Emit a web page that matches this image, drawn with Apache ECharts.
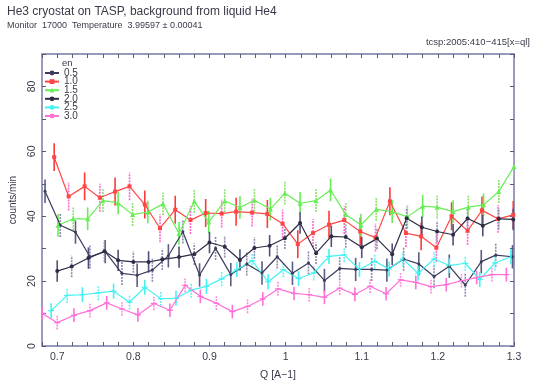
<!DOCTYPE html>
<html><head><meta charset="utf-8">
<script src="https://cdn.jsdelivr.net/npm/echarts@6/dist/echarts.min.js"></script>
<style>html,body{margin:0;padding:0;background:#fff}#c{width:534px;height:386px}</style>
</head><body><div id="c"></div>
<script>
const seriesNames = ['0.5', '1.0', '1.5', '2.0', '2.5', '3.0'];

const q05 = [0.684,0.704,0.724,0.743,0.763,0.785,0.805,0.825,0.846,0.865,0.887,0.908,0.928,0.949,0.969,0.989,1.009,1.030,1.051,1.071,1.092,1.113,1.133,1.155,1.175,1.195,1.215,1.236,1.257,1.276,1.298];
const y05 = [47.7,37.2,35.1,27.5,29.1,22.4,21.8,23.4,27.8,35.2,21.9,30.1,22.0,25.3,22.5,27.5,22.4,25.6,20.2,23.9,23.6,23.6,23.4,26.8,25.3,21.4,24.6,18.8,26.0,28.0,27.5];

const q10 = [0.696,0.715,0.736,0.756,0.776,0.795,0.815,0.835,0.855,0.875,0.895,0.916,0.935,0.956,0.976,0.996,1.016,1.036,1.057,1.077,1.098,1.118,1.137,1.158,1.178,1.198,1.218,1.239,1.258,1.279,1.299];
const y10 = [58.2,46.1,49.2,45.7,47.6,49.2,43.6,36.3,42.0,38.8,41.0,40.8,41.4,41.1,40.7,37.7,31.4,34.8,37.4,38.8,35.3,33.4,44.6,34.8,33.8,30.3,40.0,35.5,41.8,39.2,40.4];

const q15 = [0.701,0.721,0.740,0.760,0.780,0.799,0.819,0.839,0.860,0.880,0.899,0.920,0.940,0.959,0.980,0.999,1.019,1.040,1.059,1.079,1.099,1.119,1.140,1.160,1.180,1.199,1.220,1.240,1.260,1.280,1.300];
const y15 = [37.2,39.2,39.2,44.8,44.1,40.5,41.3,43.8,34.7,44.6,38.2,44.7,42.7,44.9,42.2,47.1,44.0,44.8,48.1,40.5,37.3,42.1,41.4,39.8,43.1,42.8,41.4,42.8,43.5,47.6,55.3];

const q20 = [0.700,0.719,0.741,0.762,0.780,0.800,0.820,0.838,0.860,0.880,0.900,0.920,0.940,0.959,0.979,0.999,1.019,1.040,1.060,1.079,1.100,1.120,1.140,1.159,1.179,1.199,1.220,1.239,1.259,1.280,1.299];
const y20 = [23.1,24.5,27.1,29.2,26.4,25.9,25.9,26.7,27.4,28.3,31.9,30.6,26.5,30.2,30.9,33.2,37.9,28.6,33.8,33.6,30.4,33.1,28.3,39.4,36.6,35.3,34.3,39.3,37.1,39.2,39.0];

const q25 = [0.692,0.713,0.733,0.754,0.774,0.795,0.815,0.836,0.856,0.876,0.896,0.916,0.936,0.956,0.977,0.997,1.017,1.037,1.057,1.077,1.097,1.117,1.136,1.154,1.174,1.195,1.215,1.236,1.255,1.275,1.296];
const y25 = [10.9,15.6,15.8,16.4,16.9,13.5,18.1,14.6,14.7,17.2,18.4,20.7,23.5,26.3,19.8,23.5,20.8,22.5,27.6,28.1,23.6,26.1,23.7,26.8,22.4,26.8,24.8,25.5,20.5,25.6,27.5];

const q30 = [0.680,0.700,0.722,0.743,0.765,0.785,0.806,0.827,0.848,0.868,0.888,0.909,0.930,0.950,0.970,0.990,1.011,1.031,1.051,1.071,1.091,1.111,1.132,1.151,1.171,1.191,1.211,1.231,1.251,1.271,1.290];
const y30 = [10.1,7.2,9.5,10.9,13.3,11.4,9.6,13.1,11.0,18.7,15.3,13.2,10.6,12.2,14.5,17.6,16.2,15.8,15.0,17.8,15.9,18.4,16.1,20.4,19.6,18.3,18.9,20.1,21.1,22.0,22.0];

const errs = [3.6, 4.3, 3.5, 3.3, 2.3, 2.1];

const xTickLabels = ['0.7', '0.8', '0.9', '1', '1.1', '1.2', '1.3'];
const yTickLabels = ['0', '20', '40', '60', '80'];

const qs = [q05, q10, q15, q20, q25, q30];
const ys = [y05, y10, y15, y20, y25, y30];
const lineColors = ['#3c3c5c', '#ff4646', '#66ee55', '#2c2c46', '#44f2f2', '#ff70d8'];
const errSolid = ['#5c5c84', '#ff3838', '#66ee55', '#50507a', '#44f2f2', '#ff70d8'];
const errDash = ['#8c8cb0', '#ff66cc', '#88e066', '#8c8cb0', '#66f0f0', '#ff88e0'];
const symbols = ['circle', 'rect', 'triangle', 'circle', 'none', 'none'];
const symSizes = [3, 4, 5, 4, 0, 0];
const hcap = [false, false, false, false, true, true];

const FONT = 'Liberation Sans, Arial, sans-serif';
const TXT = '#3a3a4a';
const FRAME = '#9a9abb';

const series = [];
seriesNames.forEach((nm, si) => {
  series.push({
    type: 'custom', name: nm + ' err', z: 1, silent: true, clip: true,
    data: qs[si].map((q, i) => [q, ys[si][i], errs[si]]),
    renderItem: (params, api) => {
      const x = api.value(0), y = api.value(1), e = api.value(2);
      const p0 = api.coord([x, y - e]), p1 = api.coord([x, y + e]);
      const dashed = params.dataIndex % 2 === 1;
      const children = [{
        type: 'line',
        shape: { x1: p0[0], y1: p0[1], x2: p1[0], y2: p1[1] },
        style: { stroke: dashed ? errDash[si] : errSolid[si], lineWidth: 1.6, lineDash: dashed ? [2, 1] : null }
      }];
      if (hcap[si]) {
        const c = api.coord([x, y]);
        children.push({ type: 'line', shape: { x1: c[0] - 3, y1: c[1], x2: c[0] + 3, y2: c[1] },
          style: { stroke: errSolid[si], lineWidth: 1.2 } });
      }
      return { type: 'group', children };
    }
  });
});
seriesNames.forEach((nm, si) => {
  series.push({
    type: 'line', name: nm, z: 3, clip: true,
    data: qs[si].map((q, i) => [q, ys[si][i]]),
    symbol: symbols[si] === 'none' ? 'circle' : symbols[si],
    symbolSize: symbols[si] === 'none' ? 2 : symSizes[si],
    showSymbol: true,
    lineStyle: { color: lineColors[si], width: 1.2 },
    itemStyle: { color: lineColors[si] },
    emphasis: { disabled: true }
  });
});

const fmtX = v => { const s = String(+(+v).toFixed(2)); return xTickLabels.includes(s) ? s : ''; };
const fmtY = v => { const s = String(Math.round(v)); return yTickLabels.includes(s) ? s : ''; };

const axisCommon = {
  axisLine: { show: true, onZero: false, lineStyle: { color: FRAME, width: 2 } },
  axisTick: { show: true, inside: true, length: 4, lineStyle: { color: '#5a5a78', width: 1 } },
  splitLine: { show: false }
};

const chart = echarts.init(document.getElementById('c'), null, { renderer: 'canvas' });
chart.setOption({
  animation: false,
  backgroundColor: '#ffffff',
  title: [
    { text: 'He3 cryostat on TASP, background from liquid He4', left: 7, top: 6, padding: 0,
      textStyle: { fontFamily: FONT, fontSize: 12, fontWeight: 'normal', color: TXT } },
    { text: 'Monitor  17000  Temperature  3.99597 ± 0.00041', left: 7, top: 21, padding: 0,
      textStyle: { fontFamily: FONT, fontSize: 9, fontWeight: 'normal', color: TXT } },
    { text: 'tcsp:2005:410\u2212415[x=ql]', right: 4, top: 37, padding: 0,
      textStyle: { fontFamily: FONT, fontSize: 9.5, fontWeight: 'normal', color: TXT } },
    { text: 'en', left: 62, top: 58, padding: 0,
      textStyle: { fontFamily: FONT, fontSize: 9.5, fontWeight: 'normal', color: TXT } }
  ],
  legend: {
    data: seriesNames, orient: 'vertical', left: 44, top: 68,
    itemWidth: 14, itemHeight: 6, itemGap: -1.4,
    textStyle: { fontFamily: FONT, fontSize: 10, color: TXT },
    padding: 0, selectedMode: false
  },
  grid: { left: 41, top: 54, width: 473, height: 294.5, containLabel: false },
  xAxis: [
    Object.assign({}, axisCommon, {
      type: 'value', min: 0.68, max: 1.30, interval: 0.02, position: 'bottom',
      axisLabel: { formatter: fmtX, color: TXT, fontFamily: FONT, fontSize: 10.5, margin: 6, showMinLabel: true, showMaxLabel: true },
      name: 'Q [A\u22121]', nameLocation: 'middle', nameGap: 24,
      nameTextStyle: { fontFamily: FONT, fontSize: 10.5, color: TXT }
    }),
    Object.assign({}, axisCommon, {
      type: 'value', min: 0.68, max: 1.30, interval: 0.02, position: 'top',
      axisLabel: { show: false }
    })
  ],
  yAxis: [
    Object.assign({}, axisCommon, {
      type: 'value', min: 0, max: 90, interval: 10, position: 'left',
      axisLabel: { formatter: fmtY, color: TXT, fontFamily: FONT, fontSize: 10.5, margin: 4, rotate: 90 },
      name: 'counts/min', nameLocation: 'middle', nameGap: 24, nameRotate: 90,
      nameTextStyle: { fontFamily: FONT, fontSize: 10, color: TXT }
    }),
    Object.assign({}, axisCommon, {
      type: 'value', min: 0, max: 90, interval: 10, position: 'right',
      axisLabel: { show: false }
    })
  ],
  series: series
});
</script>
</body></html>
